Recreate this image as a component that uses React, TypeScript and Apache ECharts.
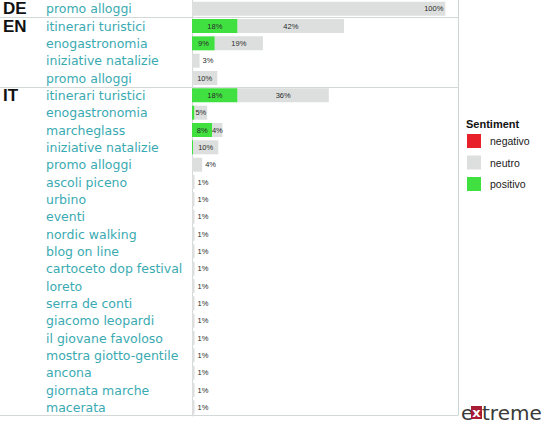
import React, { useEffect, useRef } from "react";
import * as echarts from "echarts";

const groups = [
  "DE",
  "EN", "EN", "EN", "EN",
  "IT", "IT", "IT", "IT", "IT", "IT", "IT", "IT", "IT", "IT", "IT", "IT", "IT", "IT", "IT", "IT", "IT", "IT", "IT",
];
const categories = [
  "promo alloggi",
  "itinerari turistici", "enogastronomia", "iniziative natalizie", "promo alloggi",
  "itinerari turistici", "enogastronomia", "marcheglass", "iniziative natalizie", "promo alloggi",
  "ascoli piceno", "urbino", "eventi", "nordic walking", "blog on line", "cartoceto dop festival",
  "loreto", "serra de conti", "giacomo leopardi", "il giovane favoloso", "mostra giotto-gentile",
  "ancona", "giornata marche", "macerata",
];
const negativo = [0, 0, 0, 0, 0, 0, 0, 0, 0, 0, 0, 0, 0, 0, 0, 0, 0, 0, 0, 0, 0, 0, 0, 0];
const positivo = [0, 18, 9, 0, 0, 18, 1, 8, 0.4, 0, 0, 0, 0, 0, 0, 0, 0, 0, 0, 0, 0, 0, 0, 0];
const neutro = [100, 42, 19, 3, 10, 36, 5, 4, 10, 4, 1, 1, 1, 1, 1, 1, 1, 1, 1, 1, 1, 1, 1, 1];
const legendItems = ["negativo", "neutro", "positivo"];
const legendTitle = "Sentiment";
const xMax = 105;

export default function App() {
  const ref = useRef<HTMLDivElement>(null);
  useEffect(() => {
    document.body.style.margin = "0";
    const chart = echarts.init(ref.current!, null, { renderer: "svg" });
    const keys = categories.map((c, i) => groups[i] + "|" + c);
    const labelBase = {
      show: true,
      fontSize: 7.5,
      color: "#2a2a2a",
      fontFamily: "Liberation Sans",
      formatter: (p: any) => p.value + "%",
    };
    chart.setOption({
      animation: false,
      textStyle: { fontFamily: "DejaVu Sans" },
      grid: { left: 192, top: 0, width: 266, height: 416 },
      title: {
        text: legendTitle,
        left: 466,
        top: 118,
        padding: 0,
        textStyle: { fontSize: 11, fontWeight: "bold", color: "#111", fontFamily: "Liberation Sans" },
      },
      legend: {
        data: legendItems,
        orient: "vertical",
        left: 467,
        top: 134,
        padding: 0,
        itemWidth: 14,
        itemHeight: 14,
        itemGap: 7.5,
        icon: "rect",
        selectedMode: false,
        textStyle: { fontSize: 10.5, color: "#1a1a1a", fontFamily: "Liberation Sans", padding: [0, 0, 0, 4] },
      },
      xAxis: { type: "value", min: 0, max: xMax, show: false },
      yAxis: [
        {
          type: "category",
          data: keys,
          inverse: true,
          axisLine: { show: true, lineStyle: { color: "#d3d9d9" } },
          axisTick: { show: false },
          splitLine: { show: false },
          axisLabel: {
            interval: 0,
            align: "left",
            margin: 146,
            color: "#3aaab2",
            fontSize: 12.5,
            fontFamily: "DejaVu Sans",
            formatter: (v: string) => v.split("|")[1],
          },
        },
        {
          type: "category",
          data: keys,
          inverse: true,
          position: "left",
          axisLine: { show: false },
          axisTick: { show: false },
          splitLine: { show: false },
          axisLabel: {
            interval: 0,
            align: "left",
            margin: 189,
            color: "#111",
            fontSize: 17,
            fontWeight: "bold",
            fontFamily: "Liberation Sans",
            padding: [3, 0, 0, 0],
            formatter: (_v: string, i: number) =>
              i === 0 || groups[i] !== groups[i - 1] ? groups[i] : "",
          },
        },
      ],
      series: [
        {
          name: "negativo",
          type: "bar",
          stack: "s",
          barWidth: 14,
          yAxisIndex: 0,
          itemStyle: { color: "#e8202a" },
          data: negativo,
        },
        {
          name: "positivo",
          type: "bar",
          stack: "s",
          barWidth: 14,
          yAxisIndex: 0,
          itemStyle: { color: "#41e041" },
          label: { ...labelBase, position: "inside" },
          data: positivo.map((v) => ({ value: v, label: { show: v >= 5 } })),
        },
        {
          name: "neutro",
          type: "bar",
          stack: "s",
          barWidth: 14,
          yAxisIndex: 0,
          itemStyle: { color: "#dcdfde" },
          label: { ...labelBase, position: "inside" },
          data: neutro.map((v, i) => {
            let position = "inside";
            let distance = 3;
            if (v >= 100) {
              position = "insideRight";
              distance = 2;
            } else if (positivo[i] === 0 && v <= 4) {
              position = "right";
              distance = 3;
            }
            return { value: v, label: { position, distance } };
          }),
        },
      ],
    });

    const py = (i: number) => chart.convertToPixel({ yAxisIndex: 0 }, i) as number;
    const xRight = chart.convertToPixel({ xAxisIndex: 0 }, xMax) as number;
    const half = (py(1) - py(0)) / 2;
    const yBottom = py(categories.length - 1) + half;
    const yTop = py(0) - half;
    const lineColor = "#d3d9d9";
    const seps: any[] = [];
    for (let i = 1; i < groups.length; i++) {
      if (groups[i] !== groups[i - 1]) {
        const y = Math.round((py(i - 1) + py(i)) / 2) + 0.5;
        seps.push({
          type: "line",
          shape: { x1: 0, y1: y, x2: xRight, y2: y },
          style: { stroke: lineColor, lineWidth: 1 },
        });
      }
    }
    const yb = Math.round(yBottom) - 0.5;
    seps.push({
      type: "line",
      shape: { x1: 0, y1: yb, x2: xRight, y2: yb },
      style: { stroke: lineColor, lineWidth: 1 },
    });
    const xr = Math.round(xRight) + 0.5;
    seps.push({
      type: "line",
      shape: { x1: xr, y1: yTop, x2: xr, y2: yb },
      style: { stroke: "#cdd6d6", lineWidth: 1 },
    });
    // logo
    seps.push({
      type: "text",
      style: { text: "e", x: 461, y: 413, fill: "#3a3a3a", font: '20px "DejaVu Sans"', verticalAlign: "middle" },
    });
    seps.push({
      type: "rect",
      shape: { x: 471, y: 406, width: 11, height: 13 },
      style: { fill: "#a81d35" },
    });
    seps.push({
      type: "text",
      style: {
        text: "x",
        x: 476.5,
        y: 412,
        fill: "#ffffff",
        font: 'bold 13px "DejaVu Sans"',
        align: "center",
        verticalAlign: "middle",
      },
    });
    seps.push({
      type: "text",
      style: { text: "treme", x: 482, y: 413, fill: "#3a3a3a", font: '20px "DejaVu Sans"', verticalAlign: "middle" },
    });
    chart.setOption({ graphic: seps });

    return () => chart.dispose();
  }, []);
  return <div ref={ref} style={{ width: 544, height: 424 }} />;
}
